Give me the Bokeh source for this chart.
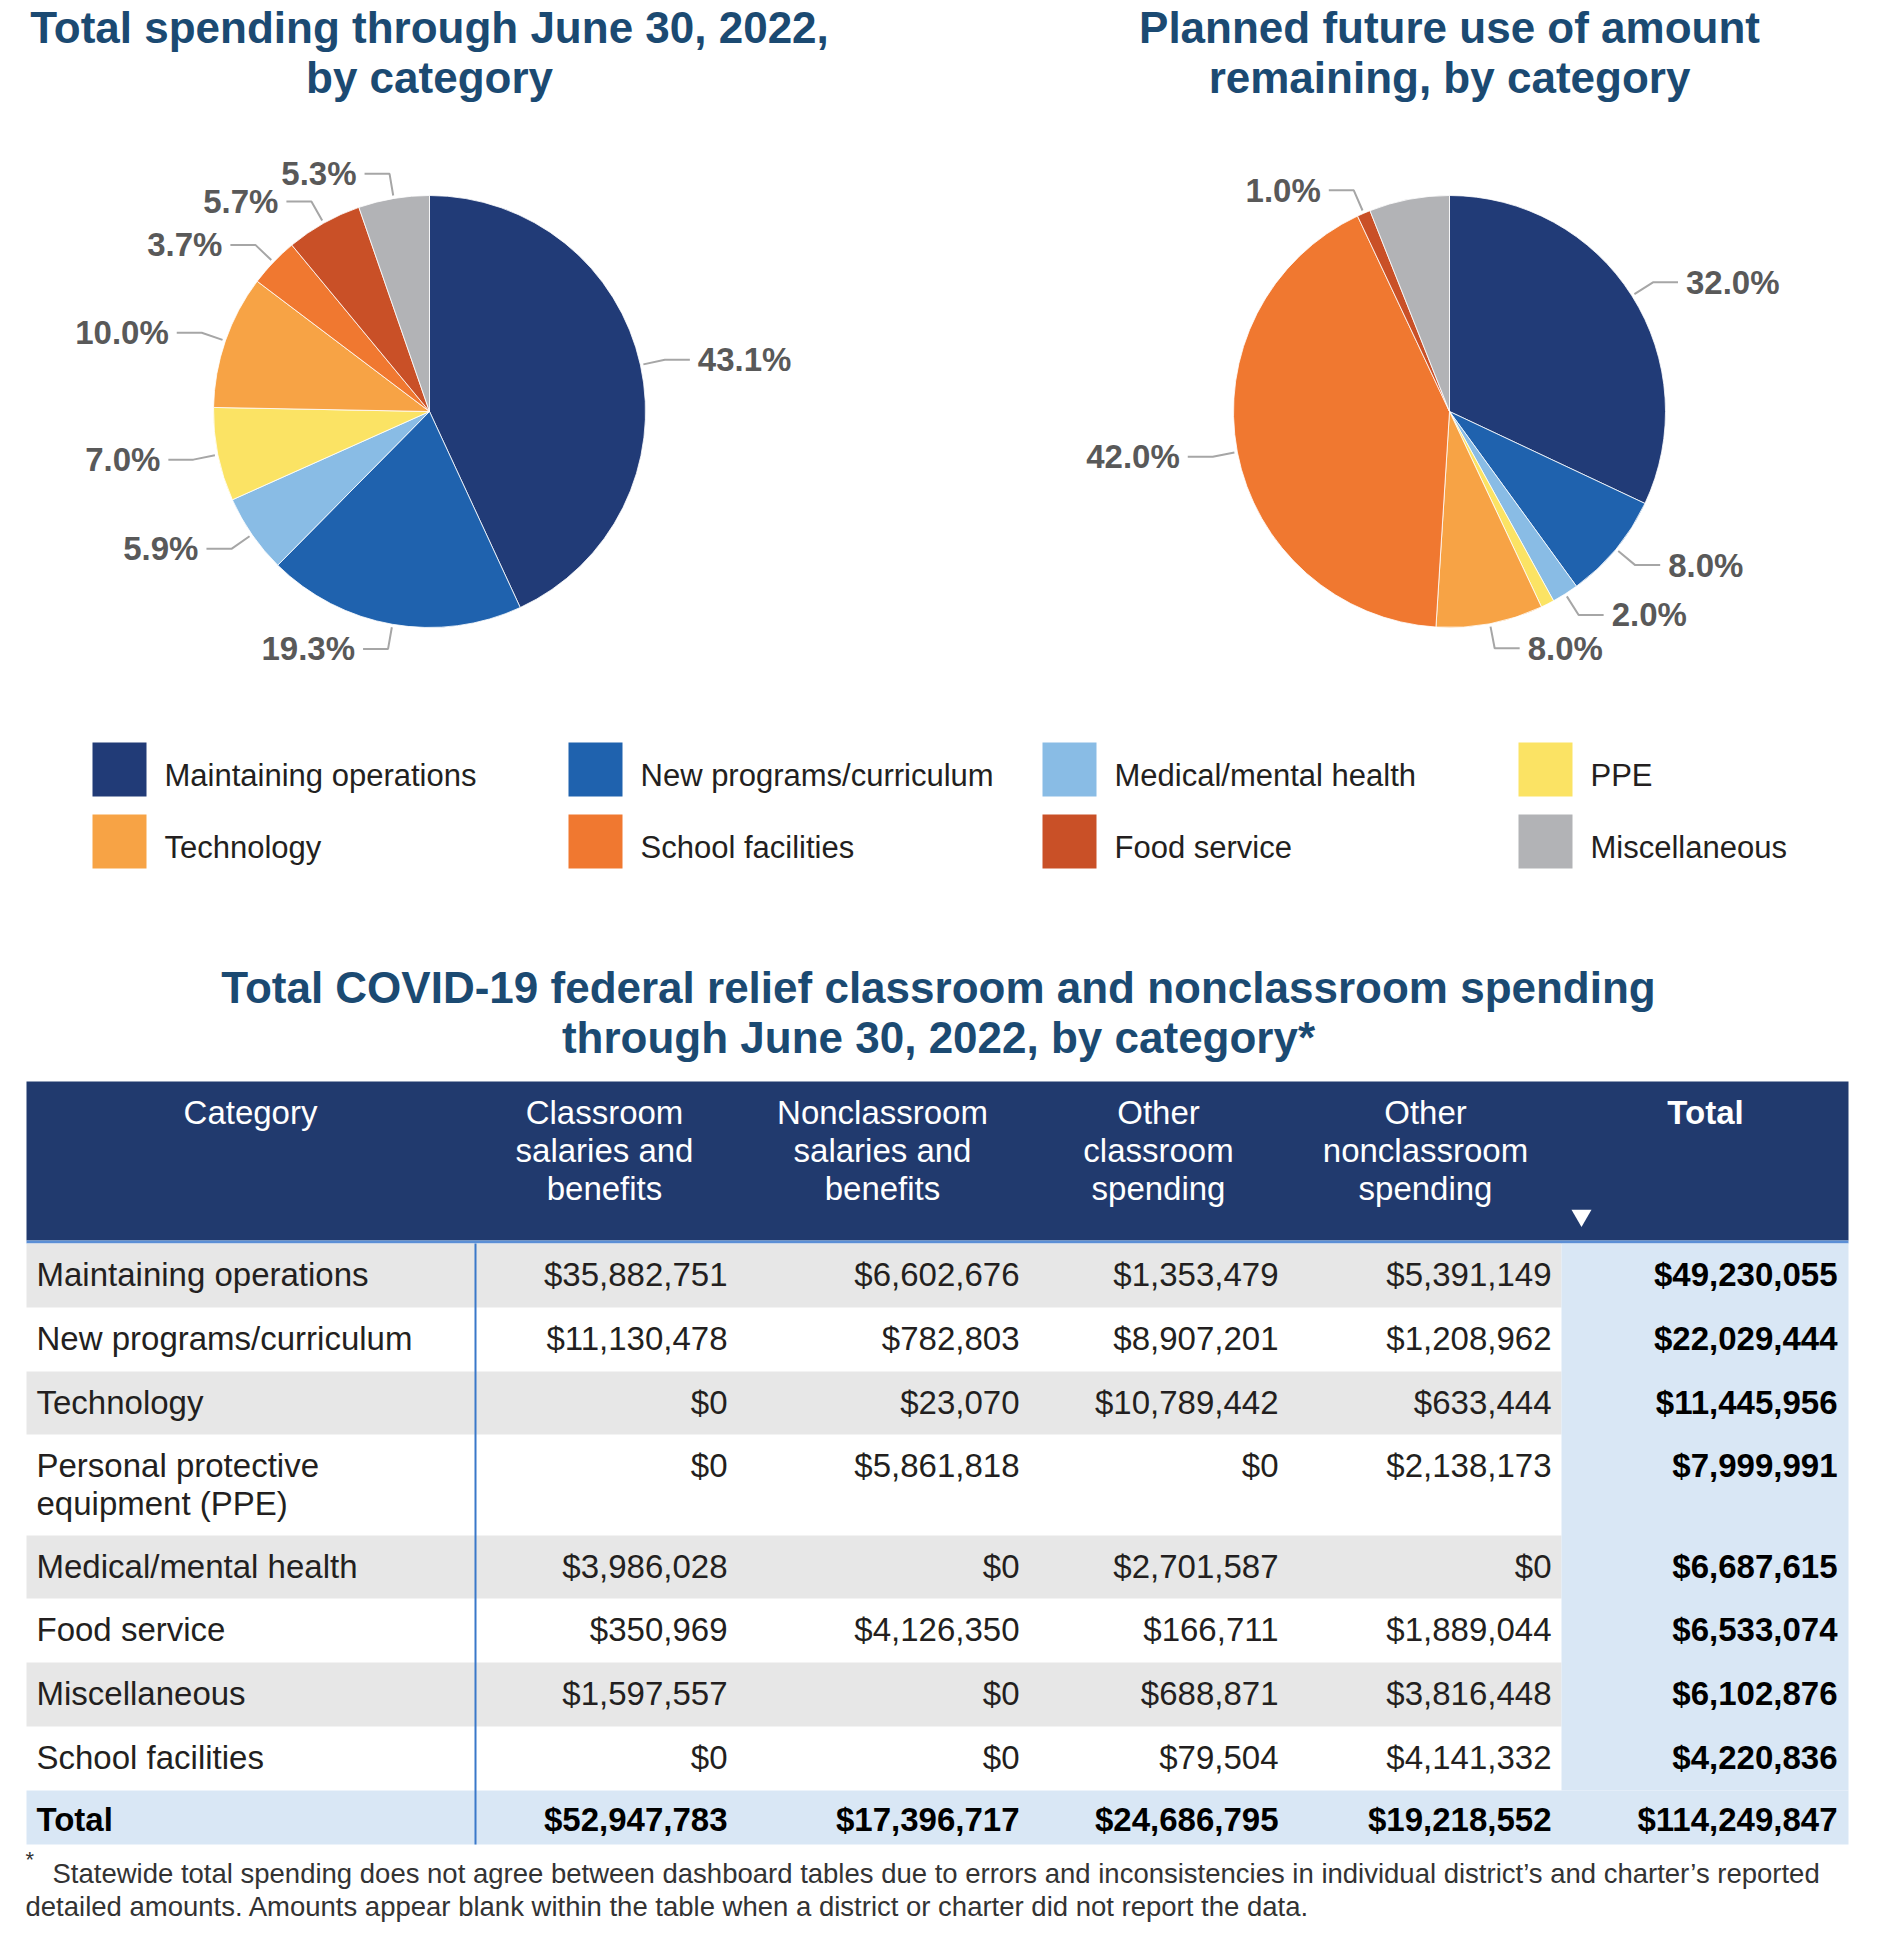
import numpy as np
from bokeh.plotting import figure
from bokeh.models import Range1d, ColumnDataSource
from bokeh.embed import file_html
from bokeh.resources import INLINE
from bokeh.core.properties import value

# ---------------- data ----------------
categories = ["Maintaining operations", "New programs/curriculum", "Medical/mental health", "PPE",
              "Technology", "School facilities", "Food service", "Miscellaneous"]
cat_colors = ["#213B77", "#1F62AE", "#89BCE5", "#FBE364", "#F7A345", "#F07830", "#C95027", "#B2B3B6"]

spent_pct = [43.1, 19.3, 5.9, 7.0, 10.0, 3.7, 5.7, 5.3]
spent_labels = ["43.1%", "19.3%", "5.9%", "7.0%", "10.0%", "3.7%", "5.7%", "5.3%"]
planned_pct = [32.0, 8.0, 2.0, 1.0, 8.0, 42.0, 1.0, 6.0]
planned_labels = ["32.0%", "8.0%", "2.0%", "", "8.0%", "42.0%", "1.0%", ""]

legend_order = [0, 1, 2, 3, 4, 5, 6, 7]

table_categories = ["Maintaining operations", "New programs/curriculum", "Technology",
                    "Personal protective\nequipment (PPE)", "Medical/mental health", "Food service",
                    "Miscellaneous", "School facilities"]
classroom_salaries = [35882751, 11130478, 0, 0, 3986028, 350969, 1597557, 0]
nonclassroom_salaries = [6602676, 782803, 23070, 5861818, 0, 4126350, 0, 0]
other_classroom = [1353479, 8907201, 10789442, 0, 2701587, 166711, 688871, 79504]
other_nonclassroom = [5391149, 1208962, 633444, 2138173, 0, 1889044, 3816448, 4141332]
row_totals = [49230055, 22029444, 11445956, 7999991, 6687615, 6533074, 6102876, 4220836]
column_totals = [52947783, 17396717, 24686795, 19218552, 114249847]
table_headers = ["Category", "Classroom\nsalaries and\nbenefits", "Nonclassroom\nsalaries and\nbenefits",
                 "Other\nclassroom\nspending", "Other\nnonclassroom\nspending", "Total"]

title_left = ["Total spending through June 30, 2022,", "by category"]
title_right = ["Planned future use of amount", "remaining, by category"]
title_table = ["Total COVID-19 federal relief classroom and nonclassroom spending",
               "through June 30, 2022, by category*"]
footnote_lines = ["Statewide total spending does not agree between dashboard tables due to errors and inconsistencies in individual district\u2019s and charter\u2019s reported",
                  "detailed amounts. Amounts appear blank within the table when a district or charter did not report the data."]

# ---------------- layout helpers ----------------
W, H = 1866, 1924
XSHIFT = 6
FONT = value("Liberation Sans")
TITLE_COLOR = "#1B4A72"
LABEL_COLOR = "#595959"
TEXT_COLOR = "#231F20"


def Y(py):
    return 8 + H - py


p = figure(width=W, height=H, output_backend="svg", toolbar_location=None,
           x_range=Range1d(8 - XSHIFT, 8 - XSHIFT + W), y_range=Range1d(8, 8 + H),
           x_axis_type=None, y_axis_type=None, min_border=0, title=None)
p.outline_line_color = None
p.grid.visible = False
p.background_fill_color = "white"


def txt(x, y, s, size, align="center", bold=False, color=TEXT_COLOR):
    p.text(x=[x], y=[Y(y)], text=[s], text_font=FONT, text_font_size=f"{size}px",
           text_font_style="bold" if bold else "normal", text_align=align,
           text_baseline="middle", text_color=color)


def title(cx, lines, y0):
    for i, s in enumerate(lines):
        txt(cx, y0 + 50 * i, s, 44, bold=True, color=TITLE_COLOR)


def pie(cx, cy, r, pcts, labels):
    fr = np.array(pcts, dtype=float) / sum(pcts)
    c1 = np.cumsum(fr)
    c0 = c1 - fr
    src = ColumnDataSource(dict(x=[cx] * len(fr), y=[Y(cy)] * len(fr),
                                s=np.pi / 2 - 2 * np.pi * c0, e=np.pi / 2 - 2 * np.pi * c1,
                                c=cat_colors))
    p.wedge(x="x", y="y", radius=r, start_angle="s", end_angle="e", direction="clock",
            fill_color="c", line_color="white", line_width=0.8, source=src)
    mid = np.pi * (c0 + c1)
    off, hl, gap = 25, 25, 8
    for m, lab in zip(mid, labels):
        if not lab:
            continue
        sx, sy = np.sin(m), np.cos(m)
        side = 1 if sx >= 0 else -1
        px, py = cx + (r + 3) * sx, Y(cy) + (r + 3) * sy
        ex, ey = cx + (r + off) * sx, Y(cy) + (r + off) * sy
        hx = ex + side * hl
        p.line(x=[px, ex, hx], y=[py, ey, ey], line_color="#A6A6A6", line_width=2)
        p.text(x=[hx + side * gap], y=[ey], text=[lab], text_font=FONT, text_font_size="33px",
               text_font_style="bold", text_align="left" if side > 0 else "right",
               text_baseline="middle", text_color=LABEL_COLOR)


# ---------------- pies ----------------
title(431, title_left, 27)
title(1451, title_right, 27)
pie(431, 411, 216, spent_pct, spent_labels)
pie(1451, 411, 216, planned_pct, planned_labels)

# ---------------- legend ----------------
leg_x = [94, 570, 1044, 1520]
leg_y = [742, 814]
for k, idx in enumerate(legend_order):
    row, col = divmod(k, 4)
    x0, y0 = leg_x[col], leg_y[row]
    p.quad(left=[x0], right=[x0 + 54], top=[Y(y0)], bottom=[Y(y0 + 54)],
           fill_color=cat_colors[idx], line_color=None)
    txt(x0 + 72, y0 + 33, categories[idx], 31, align="left")

# ---------------- table ----------------
title(940, title_table, 987)

TL, TR = 28, 1850
HEAD_TOP, HEAD_BOT = 1081, 1240
TOTAL_COL_LEFT = 1563
CAT_LINE_X = 477
p.quad(left=[TL], right=[TR], top=[Y(HEAD_TOP)], bottom=[Y(HEAD_BOT)], fill_color="#213A6E", line_color=None)
p.quad(left=[TL], right=[TR], top=[Y(HEAD_BOT)], bottom=[Y(HEAD_BOT + 3)], fill_color="#5B8FD6", line_color=None)

head_cx = [252, 606, 884, 1160, 1427, 1707]
for j, h in enumerate(table_headers):
    for i, line in enumerate(h.split("\n")):
        txt(head_cx[j], 1112 + 38 * i, line, 33, bold=(j == len(table_headers) - 1), color="white")
p.scatter(x=[1583], y=[Y(1215)], marker="inverted_triangle", size=20, fill_color="white", line_color=None)

row_h = [64, 64, 63, 101, 63, 64, 64, 64]
total_h = 54
tops = [HEAD_BOT + 3]
for h in row_h:
    tops.append(tops[-1] + h)
body_bottom = tops[-1] + total_h

# backgrounds
for i in range(len(row_h)):
    if i % 2 == 0:
        p.quad(left=[TL], right=[TOTAL_COL_LEFT], top=[Y(tops[i])], bottom=[Y(tops[i + 1])],
               fill_color="#E7E7E7", line_color=None)
p.quad(left=[TOTAL_COL_LEFT], right=[TR], top=[Y(tops[0])], bottom=[Y(tops[-1])], fill_color="#D9E7F5", line_color=None)
p.quad(left=[TL], right=[TR], top=[Y(tops[-1])], bottom=[Y(body_bottom)], fill_color="#D9E7F5", line_color=None)
p.line(x=[CAT_LINE_X, CAT_LINE_X], y=[Y(HEAD_BOT + 3), Y(body_bottom)], line_color="#3A78C9", line_width=2)

val_right = [729, 1021, 1280, 1553, 1839]
cols = [classroom_salaries, nonclassroom_salaries, other_classroom, other_nonclassroom, row_totals]


def money(v):
    return f"${v:,}"


for i, cat in enumerate(table_categories):
    yc = tops[i] + 31
    for k, line in enumerate(cat.split("\n")):
        txt(38, yc + 38 * k, line, 33, align="left")
    for j, col in enumerate(cols):
        txt(val_right[j], yc, money(col[i]), 33, align="right", bold=(j == 4),
            color=TEXT_COLOR if j < 4 else "black")

yc = tops[-1] + 29
txt(38, yc, "Total", 33, align="left", bold=True, color="black")
for j, v in enumerate(column_totals):
    txt(val_right[j], yc, money(v), 33, align="right", bold=True, color="black")

# ---------------- footnote ----------------
txt(27, 1859, "*", 22, align="left", color="#333333")
txt(54, 1873, footnote_lines[0], 27.5, align="left", color="#333333")
txt(27, 1906, footnote_lines[1], 27.5, align="left", color="#333333")

open("out.html", "w").write(file_html(p, INLINE))
